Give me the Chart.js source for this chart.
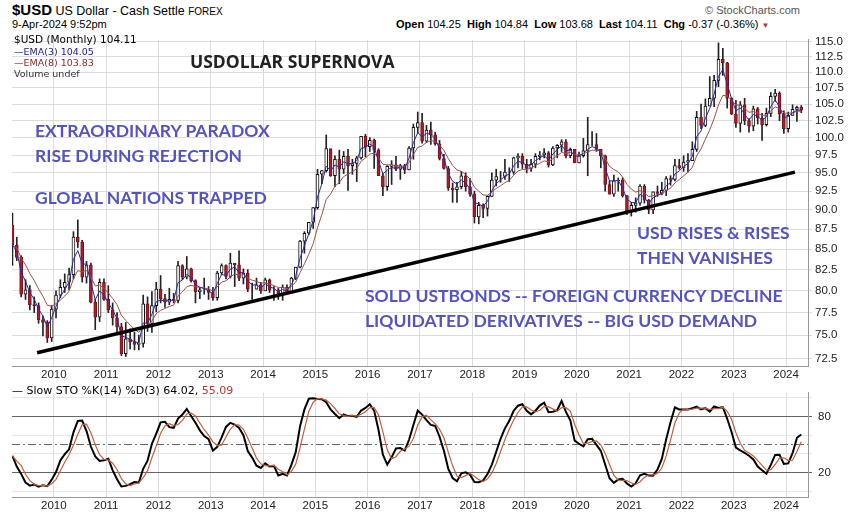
<!DOCTYPE html>
<html>
<head>
<meta charset="utf-8">
<script src="https://cdn.jsdelivr.net/npm/chart.js@4.4.1/dist/chart.umd.min.js"></script>
<style>
  body { margin: 0; background: #fff; font-family: "Liberation Sans", Arial, sans-serif; }
  #wrap { position: relative; width: 848px; height: 513px; overflow: hidden; }
  .t { position: absolute; white-space: nowrap; }
  .note { position: absolute; white-space: nowrap; font-family: Lato, sans-serif; font-weight: bold; font-size: 17.5px; color: #5353c4; }
  #top { position: absolute; left: 0; top: 30px; width: 848px; height: 352px; }
  #bot { position: absolute; left: 0; top: 380px; width: 848px; height: 133px; }
</style>
</head>
<body>
<div id="wrap">
  <div id="top"><canvas id="priceChart"></canvas></div>
  <div id="bot"><canvas id="stoChart"></canvas></div>

  <div class="t" style="left:12px;top:1px;font-size:12.5px;"><b style="font-size:15px">$USD</b> US Dollar - Cash Settle <span style="font-size:10px">FOREX</span></div>
  <div class="t" style="left:12px;top:18px;font-size:11px;">9-Apr-2024 9:52pm</div>
  <div class="t" style="left:705px;top:4px;font-size:11px;color:#555;">© StockCharts.com</div>
  <div class="t" style="left:396px;top:18px;font-size:11px;"><b>Open</b> 104.25 &nbsp;<b>High</b> 104.84 &nbsp;<b>Low</b> 103.68 &nbsp;<b>Last</b> 104.11 &nbsp;<b>Chg</b> -0.37 (-0.36%) <span style="color:#c03050;font-size:8px">▼</span></div>

  <div class="t" style="left:14px;top:33px;font-family:'DejaVu Sans';font-size:10.5px;">$USD (Monthly) 104.11</div>
  <div class="t" style="left:14px;top:46px;font-family:'DejaVu Sans';font-size:9.5px;color:#1a1a8c;">—EMA(3) 104.05</div>
  <div class="t" style="left:14px;top:57px;font-family:'DejaVu Sans';font-size:9.5px;color:#8c2a2a;">—EMA(8) 103.83</div>
  <div class="t" style="left:14px;top:68px;font-family:'DejaVu Sans';font-size:9.5px;color:#333;">Volume undef</div>
  <div class="t" style="left:190px;top:49px;font-family:'Open Sans';font-weight:bold;font-size:17.5px;color:#222;">USDOLLAR SUPERNOVA</div>

  <div class="note" style="left:35px;top:120px;">EXTRAORDINARY PARADOX</div>
  <div class="note" style="left:35px;top:145px;">RISE DURING REJECTION</div>
  <div class="note" style="left:35px;top:187px;">GLOBAL NATIONS TRAPPED</div>
  <div class="note" style="left:637px;top:222px;">USD RISES &amp; RISES</div>
  <div class="note" style="left:637px;top:247px;">THEN VANISHES</div>
  <div class="note" style="left:365px;top:285px;">SOLD USTBONDS -- FOREIGN CURRENCY DECLINE</div>
  <div class="note" style="left:365px;top:310px;">LIQUIDATED DERIVATIVES -- BIG USD DEMAND</div>

  <div class="t" style="left:12px;top:384px;font-size:11px;font-family:'DejaVu Sans';">— Slow STO %K(14) %D(3) 64.02, <span style="color:#c03030">55.09</span></div>
</div>

<script>
// monthly bars, Mar 2009 .. Apr 2024
const firstMonth = 2009 + 2 / 12;
const firstOpen = 88.0;

const closes = [
  85.5, 84.0, 79.6, 80.1, 78.4, 78.3, 76.7, 76.4, 74.7, 77.9,
  79.5, 80.4, 81.0, 81.9, 86.5, 85.9, 81.6, 83.1, 78.7, 77.0, 81.0, 79.0,
  77.8, 76.9, 75.9, 73.0, 74.6, 74.3, 74.0, 74.1, 78.5, 76.3, 78.3, 80.2,
  79.1, 78.7, 79.0, 78.9, 83.0, 81.6, 82.6, 81.2, 79.9, 80.1, 80.1, 79.8,
  79.2, 82.1, 83.0, 81.7, 83.3, 83.1, 81.5, 82.1, 80.2, 80.2, 80.7, 80.0,
  81.3, 80.1, 80.1, 79.5, 80.4, 79.8, 81.5, 82.8, 86.0, 87.0, 88.4, 90.3,
  94.8, 95.3, 98.4, 94.6, 96.9, 95.5, 97.3, 96.0, 96.3, 97.1, 100.2, 98.7,
  99.6, 98.2, 94.6, 93.1, 95.9, 96.1, 95.5, 96.0, 95.4, 98.5, 101.5, 102.2,
  99.5, 101.1, 100.4, 99.1, 97.0, 95.6, 92.9, 92.7, 93.1, 94.6, 93.1, 92.1,
  89.1, 90.6, 90.2, 91.8, 94.0, 94.5, 94.5, 95.1, 95.1, 97.1, 97.3, 96.2,
  95.6, 96.2, 97.3, 97.5, 97.8, 96.1, 98.5, 98.9, 99.4, 97.4, 98.3, 96.4,
  97.4, 98.1, 99.0, 99.0, 98.3, 97.4, 93.4, 92.1, 93.9, 94.0, 91.9, 89.9,
  90.6, 90.9, 93.2, 91.3, 90.0, 92.4, 92.2, 92.6, 94.2, 94.1, 96.0, 95.7,
  96.5, 96.7, 98.3, 103.0, 101.8, 104.7, 105.9, 108.7, 112.1, 111.5, 105.9, 103.5,
  102.1, 104.9, 102.5, 101.7, 104.3, 102.9, 101.9, 103.6, 106.2, 106.7, 103.5, 101.3,
  103.3, 104.2, 104.5, 104.1
];
const highs = [
  89.6, 86.5, 84.2, 81.3, 80.6, 79.3, 78.6, 77.1, 76.6, 78.3,
  80.0, 81.3, 82.0, 82.7, 87.2, 88.7, 86.1, 83.5, 83.3, 79.0, 81.4, 81.4,
  80.6, 78.6, 77.5, 76.3, 76.4, 75.7, 75.3, 75.0, 79.5, 79.3, 79.9, 81.0,
  81.8, 79.6, 80.3, 79.7, 83.5, 83.1, 84.1, 82.7, 81.3, 80.4, 81.5, 80.5,
  80.4, 82.3, 83.2, 83.1, 84.5, 83.2, 84.8, 82.6, 82.5, 80.9, 81.5, 81.0,
  81.5, 81.4, 80.5, 80.3, 80.7, 80.7, 81.6, 82.8, 86.1, 87.2, 88.4, 90.3,
  95.5, 95.3, 100.4, 98.3, 97.4, 98.2, 98.0, 98.3, 96.9, 97.3, 100.2, 100.5,
  100.0, 99.8, 98.4, 94.9, 96.0, 96.7, 97.3, 96.2, 96.2, 98.7, 102.0, 103.8,
  103.6, 101.8, 102.3, 100.8, 99.6, 97.6, 95.9, 93.6, 93.7, 95.2, 95.0, 94.2,
  92.5, 91.0, 90.8, 91.9, 95.0, 95.5, 95.2, 96.9, 95.7, 97.2, 97.7, 97.7,
  96.9, 96.9, 97.7, 98.0, 98.4, 98.0, 98.7, 99.0, 99.7, 99.7, 98.5, 98.3,
  97.9, 99.9, 103.0, 100.9, 100.6, 97.8, 97.5, 93.9, 94.7, 94.3, 94.3, 91.9,
  91.0, 91.6, 93.4, 93.4, 91.4, 92.4, 93.2, 93.7, 94.5, 94.6, 96.9, 96.9,
  97.4, 97.7, 99.4, 103.9, 105.0, 105.8, 109.3, 109.5, 114.8, 113.9, 111.6, 106.0,
  105.6, 105.4, 105.9, 102.8, 104.7, 104.5, 103.6, 104.4, 106.8, 107.3, 106.9, 104.0,
  103.8, 104.9, 104.7, 104.8
];
const lows = [
  83.0, 83.6, 79.3, 79.0, 77.8, 77.5, 76.3, 74.9, 74.2, 74.3,
  76.9, 79.2, 79.8, 80.1, 81.4, 85.2, 81.0, 80.9, 78.6, 75.6, 76.5, 78.9,
  77.5, 76.1, 75.3, 72.8, 72.7, 73.5, 73.4, 73.4, 73.7, 75.4, 75.3, 77.6,
  78.6, 78.1, 78.4, 78.6, 78.6, 81.3, 81.4, 81.0, 78.6, 79.1, 79.6, 79.0,
  78.9, 78.9, 81.9, 81.4, 81.5, 80.5, 81.2, 80.8, 79.9, 79.0, 80.2, 79.7,
  80.0, 79.8, 78.9, 79.0, 78.9, 80.0, 79.8, 81.3, 82.7, 84.5, 86.8, 87.6,
  90.1, 93.5, 95.1, 94.5, 93.1, 93.5, 94.9, 92.6, 94.8, 93.8, 96.9, 97.2,
  98.0, 95.6, 94.6, 91.9, 92.6, 93.4, 95.3, 94.1, 94.9, 95.4, 96.9, 100.6,
  99.2, 99.3, 99.0, 98.9, 96.8, 95.5, 92.6, 91.0, 91.0, 92.8, 92.5, 91.8,
  88.3, 88.2, 89.0, 89.2, 91.8, 93.2, 93.7, 94.1, 93.8, 94.8, 95.7, 95.6,
  95.0, 95.2, 95.7, 96.8, 97.1, 95.8, 96.0, 97.1, 98.0, 97.1, 97.1, 96.4,
  96.4, 97.2, 94.6, 98.8, 98.0, 95.7, 92.5, 92.1, 91.8, 92.5, 91.7, 89.4,
  89.2, 89.7, 90.6, 90.9, 89.5, 89.5, 91.8, 92.0, 91.9, 93.3, 93.9, 95.5,
  95.2, 95.1, 96.9, 98.0, 101.3, 101.6, 105.0, 104.6, 107.7, 109.5, 104.4, 103.4,
  101.5, 100.8, 101.9, 100.8, 101.0, 102.0, 99.6, 101.7, 103.1, 105.4, 102.5, 100.6,
  100.8, 103.3, 102.4, 103.7
];

const yearTicks = [2010, 2011, 2012, 2013, 2014, 2015, 2016, 2017, 2018, 2019, 2020, 2021, 2022, 2023, 2024];
const priceTicks = [72.5, 75, 77.5, 80, 82.5, 85, 87.5, 90, 92.5, 95, 97.5, 100, 102.5, 105, 107.5, 110, 112.5, 115];
const stoTicks = [20, 50, 80];
const trendLine = [{ x: 2009.68, y: 73.1 }, { x: 2024.17, y: 95.1 }];

const xMin = 2009.2, xMax = 2024.42;

const times = closes.map((c, i) => firstMonth + i / 12 + 1 / 24);
const opens = closes.map((c, i) => i === 0 ? firstOpen : closes[i - 1]);

function ema(values, n) {
  const k = 2 / (n + 1);
  const out = [];
  values.forEach((v, i) => out.push(i === 0 ? v : v * k + out[i - 1] * (1 - k)));
  return out;
}

function sma(values, n) {
  return values.map((v, i) => {
    const part = values.slice(Math.max(0, i - n + 1), i + 1);
    return part.reduce((a, b) => a + b, 0) / part.length;
  });
}

const rawK = closes.map((c, i) => {
  const from = Math.max(0, i - 13);
  const hh = Math.max(...highs.slice(from, i + 1));
  const ll = Math.min(...lows.slice(from, i + 1));
  return (c - ll) / (hh - ll) * 100;
});
const slowK = sma(rawK, 3);
const slowD = sma(slowK, 3);

const ema3 = ema(closes, 3);
const ema8 = ema(closes, 8);

const upColor = '#ffffff';
const downColor = '#a8202a';
const bodyColors = closes.map((c, i) => c >= opens[i] ? upColor : downColor);
const borderColors = closes.map((c, i) => c >= opens[i] ? '#111' : '#7a1018');

const pts = arr => arr.map((v, i) => ({ x: times[i], y: v }));
const fixWidth = w => axis => { axis.width = w; };
const fixHeight = h => axis => { axis.height = h; };
const tickFont = { family: 'Liberation Sans', size: 11.5 };

const xAxis = {
  type: 'linear',
  min: xMin,
  max: xMax,
  offset: false,
  afterBuildTicks: axis => { axis.ticks = yearTicks.map(v => ({ value: v })); },
  ticks: { color: '#222', font: tickFont, maxRotation: 0, padding: 2, callback: v => String(v) },
  grid: { color: '#dcdcdc', drawTicks: false, offset: false },
  border: { color: '#999' },
  afterFit: fixHeight(16)
};

new Chart(document.getElementById('priceChart'), {
  data: {
    datasets: [
      {
        type: 'bar',
        data: lows.map((l, i) => ({ x: times[i], y: [l, highs[i]] })),
        backgroundColor: '#222',
        barThickness: 1,
        grouped: false,
        order: 5
      },
      {
        type: 'bar',
        data: closes.map((c, i) => ({ x: times[i], y: [opens[i], c] })),
        backgroundColor: bodyColors,
        borderColor: borderColors,
        borderWidth: 1,
        borderSkipped: false,
        barThickness: 3,
        grouped: false,
        order: 4
      },
      {
        type: 'line',
        data: pts(ema8),
        borderColor: '#a0504a',
        borderWidth: 1,
        pointRadius: 0,
        order: 3
      },
      {
        type: 'line',
        data: pts(ema3),
        borderColor: '#2a2aa0',
        borderWidth: 1,
        pointRadius: 0,
        order: 2
      },
      {
        type: 'line',
        data: trendLine,
        borderColor: '#000',
        borderWidth: 3.5,
        pointRadius: 0,
        order: 1
      }
    ]
  },
  options: {
    responsive: true,
    maintainAspectRatio: false,
    animation: false,
    layout: { padding: { left: 12, top: 6, right: 0, bottom: 0 } },
    plugins: { legend: { display: false }, tooltip: { enabled: false } },
    scales: {
      x: xAxis,
      y: {
        type: 'logarithmic',
        position: 'right',
        min: 71.7,
        max: 115.3,
        afterBuildTicks: axis => { axis.ticks = priceTicks.map(v => ({ value: v })); },
        ticks: { color: '#222', font: tickFont, padding: 3, callback: v => Number(v).toFixed(1) },
        grid: { color: '#dcdcdc', tickLength: 4 },
        border: { color: '#999' },
        afterFit: fixWidth(40)
      }
    }
  }
});

new Chart(document.getElementById('stoChart'), {
  type: 'line',
  data: {
    datasets: [
      {
        data: pts(slowD),
        borderColor: '#c0603a',
        borderWidth: 1.2,
        pointRadius: 0
      },
      {
        data: pts(slowK),
        borderColor: '#000',
        borderWidth: 2,
        pointRadius: 0
      }
    ]
  },
  options: {
    responsive: true,
    maintainAspectRatio: false,
    animation: false,
    layout: { padding: { left: 12, top: 3, right: 0, bottom: 0 } },
    plugins: { legend: { display: false }, tooltip: { enabled: false } },
    scales: {
      x: Object.assign({}, xAxis, { afterFit: fixHeight(16) }),
      y: {
        position: 'right',
        min: -6,
        max: 105,
        afterBuildTicks: axis => {
          axis.ticks = [0, 10, 20, 30, 40, 50, 60, 70, 80, 90, 100].map(v => ({ value: v }));
        },
        ticks: {
          color: '#222',
          font: tickFont,
          padding: 6,
          callback: v => stoTicks.includes(v) ? String(v) : ''
        },
        grid: {
          color: ctx => ctx.tick.value === 20 || ctx.tick.value === 80 ? '#666' : '#e6e6e6',
          tickLength: 4
        },
        border: { color: '#999' },
        afterFit: fixWidth(40)
      }
    }
  },
  plugins: [{
    id: 'midLine',
    beforeDatasetsDraw: chart => {
      const ctx = chart.ctx;
      const y = chart.scales.y.getPixelForValue(50);
      ctx.save();
      ctx.strokeStyle = '#666';
      ctx.lineWidth = 1;
      ctx.setLineDash([8, 3, 2, 3]);
      ctx.beginPath();
      ctx.moveTo(chart.chartArea.left, y);
      ctx.lineTo(chart.chartArea.right, y);
      ctx.stroke();
      ctx.restore();
    }
  }]
});
</script>
</body>
</html>
